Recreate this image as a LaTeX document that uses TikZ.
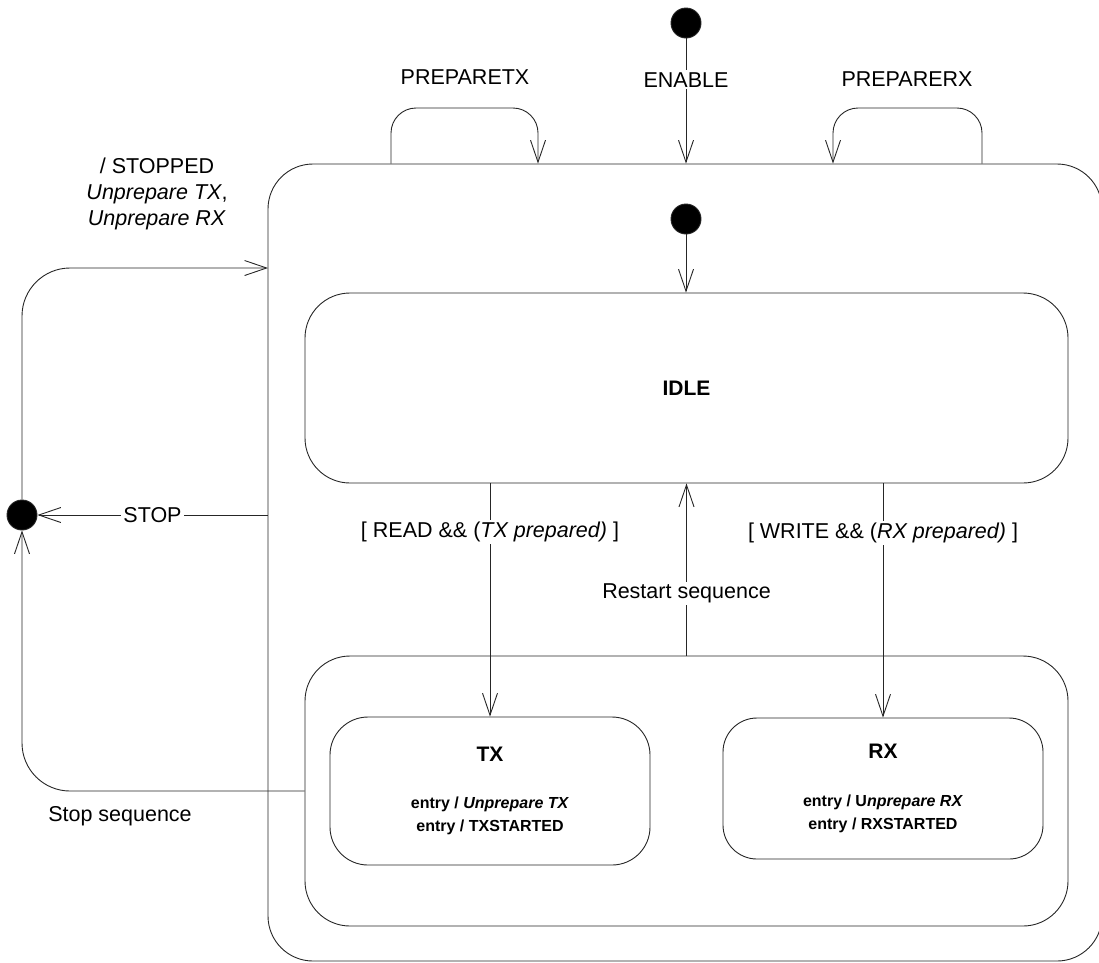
\documentclass[tikz,border=0pt]{standalone}
\usepackage{fontspec}
\setmainfont{Liberation Sans}
\usetikzlibrary{arrows.meta,positioning}
\begin{document}
\begin{tikzpicture}[
  x=1pt, y=-1pt,
  line width=0.9pt, draw=black!85,
  >={Straight Barb[length=22pt,width=15pt]},
  state/.style={rectangle, draw, rounded corners=45pt, inner sep=0pt},
  substate/.style={state, rounded corners=36pt, minimum width=320pt},
  dot/.style={circle, draw, fill=black, minimum size=30pt, inner sep=0pt},
  lbl/.style={fill=white, inner sep=2pt},
  entrytxt/.style={font=\fontsize{16}{23}\selectfont\bfseries, align=center},
  font=\fontsize{21.5}{26}\selectfont
]
\useasboundingbox (0,0) rectangle (1099,962);

\node[dot] (init1) at (686,23) {};
\node[state, minimum width=834pt, minimum height=797pt] (outer) at (685,562.5) {};
\node[dot] (init2) at (686,219) {};
\node[state, minimum width=763pt, minimum height=190pt, font=\fontsize{21}{26}\selectfont\bfseries] (idle) at (686.5,388) {IDLE};
\node[state, minimum width=763pt, minimum height=270pt] (seq) at (686.5,791) {};
\node[substate, minimum height=148pt, rounded corners=38pt] (tx) at (490,791) {};
\node[substate, minimum height=141pt, rounded corners=34pt] (rx) at (883,788.5) {};
\node[dot] (final) at (22,515) {};

% Inside TX / RX
\node[font=\fontsize{21}{26}\selectfont\bfseries] (txname) at ([yshift=-38pt]tx.north) {TX};
\node[entrytxt] (txentry) at ([yshift=-99.5pt]tx.north) {entry / \textit{Unprepare TX}\\entry / TXSTARTED};
\node[font=\fontsize{21}{26}\selectfont\bfseries] (rxname) at ([yshift=-34pt]rx.north) {RX};
\node[entrytxt] (rxentry) at ([yshift=-96pt]rx.north) {entry / U\textit{nprepare RX}\\entry / RXSTARTED};

% Self loops on the outer state
\coordinate (ptxl) at (391,108);
\coordinate (ptxr) at (538,108);
\coordinate (prxl) at (833,108);
\coordinate (prxr) at (982,108);
\coordinate (stopin) at (268,268);

% Arrows
\draw[->] (init1) -- node[lbl, pos=0.33] {ENABLE} (init1 |- outer.north);
\draw[->] (init2) -- (init2 |- idle.north);
\draw[->, rounded corners=25pt] (outer.north -| ptxl) -- (ptxl) -- (ptxr) -- (outer.north -| ptxr);
\draw[->, rounded corners=25pt] (outer.north -| prxr) -- (prxr) -- (prxl) -- (outer.north -| prxl);
\draw[->] (idle.south -| tx.north) -- node[lbl, pos=0.21] {[ READ \&\& (\textit{TX prepared)} ]} (tx.north);
\draw[->] (idle.south -| rx.north) -- node[lbl, pos=0.21] {[ WRITE \&\& (\textit{RX prepared)} ]} (rx.north);
\draw[->] (seq.north) -- node[lbl, pos=0.36] {Restart sequence} (idle.south);
\draw[->] (outer.west |- final) -- node[lbl, pos=0.5] {STOP} (final);
\draw[->, rounded corners=48pt] (seq.west) -| (final);
\draw[->, rounded corners=48pt] (final) |- (stopin);

% Free labels
\node (ptxlbl) at (465,77) {PREPARETX};
\node (prxlbl) at (907,79) {PREPARERX};
\node[align=center] (stoppedlbl) at (157,194) {/ STOPPED\\\textit{Unprepare TX},\\\textit{Unprepare RX}};
\node (stopseq) at (120,816) {Stop sequence};

\end{tikzpicture}
\end{document}
